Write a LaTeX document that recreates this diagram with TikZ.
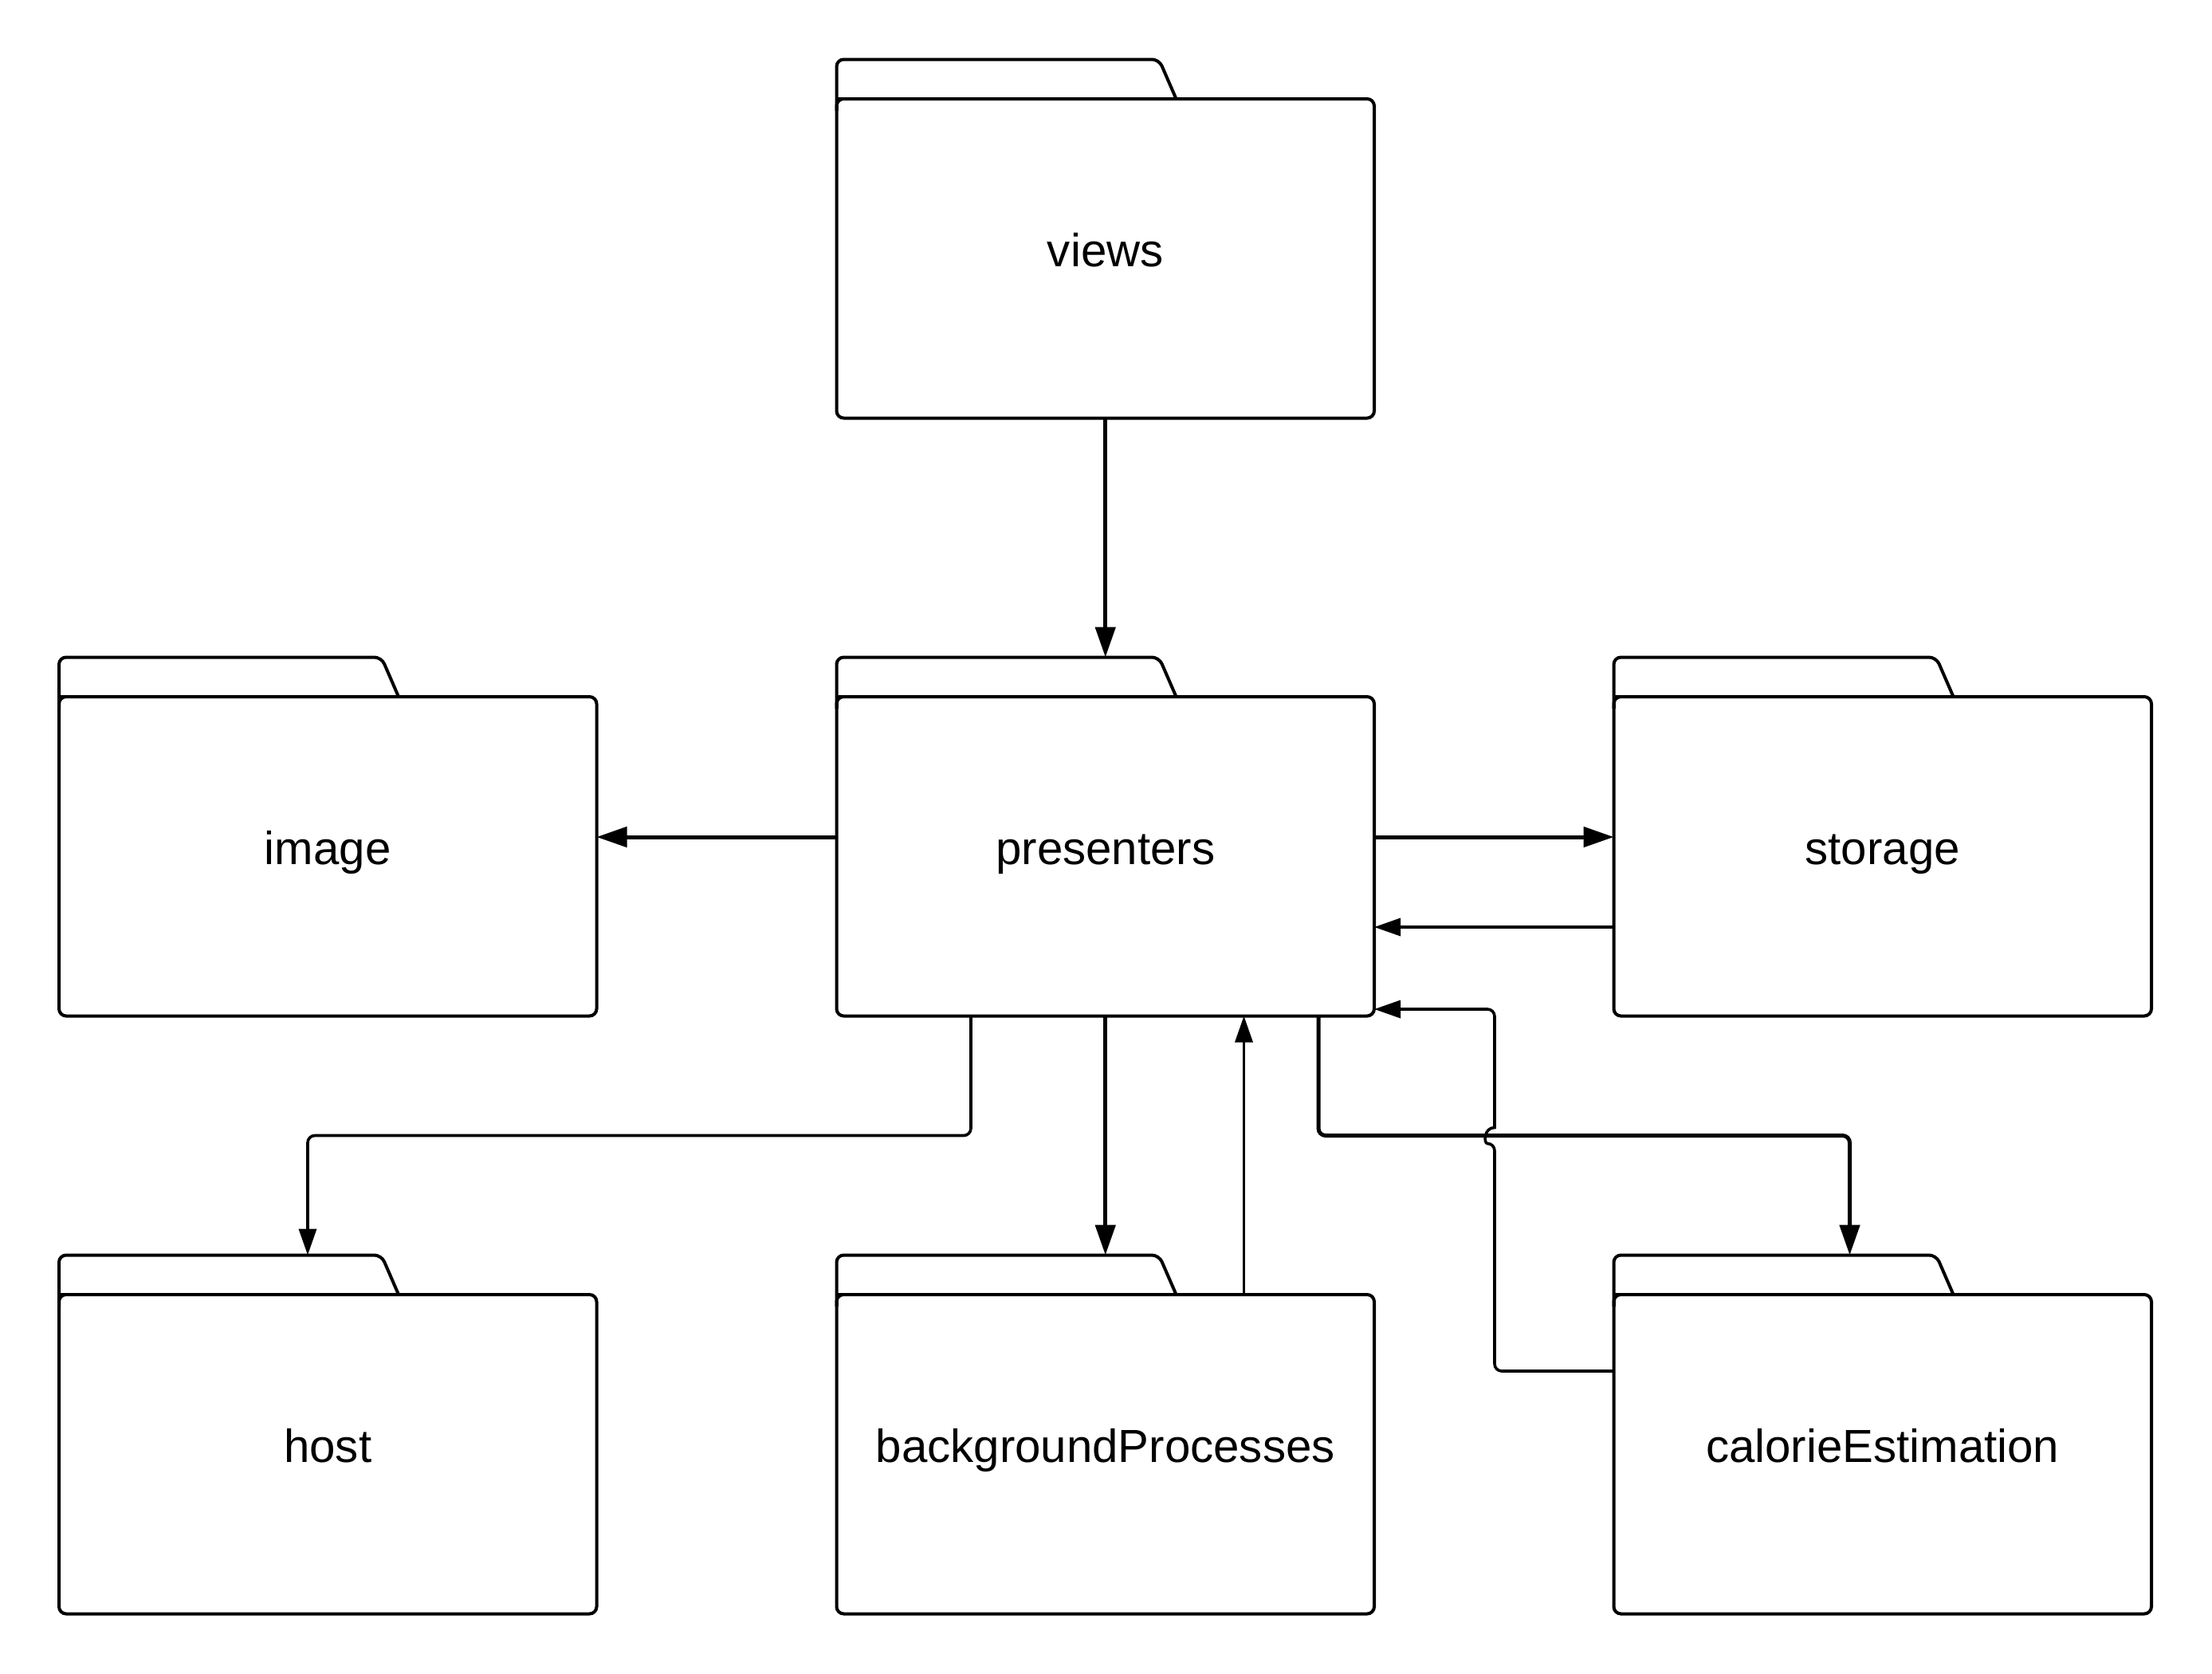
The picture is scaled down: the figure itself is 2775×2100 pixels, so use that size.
\documentclass[tikz,border=0pt]{standalone}
\usepackage{fontspec}
\setmainfont{Liberation Sans}
\usetikzlibrary{arrows.meta}
\newcommand\pkgfolder[4]{% #1 name, #2 left x, #3 tab top y, #4 label
  \node[folderbody] (#1) at (#2+337.25,#3+249.75) {#4};
  \coordinate (#1-tab) at (#2,#3);
  \draw[folderline, rounded corners=2.25pt] ([shift={(426,0)}]#1.north west) -- (#2+404.5,#3) -- (#1-tab) -- ([shift={(0,15)}]#1.north west);
  \draw[folderline] ([shift={(0,15)}]#1.north west) -- (#1.north west) -- ([shift={(15,0)}]#1.north west);
}
\begin{document}
\begin{tikzpicture}[x=0.25pt,y=-0.25pt,
  folderbody/.style={draw, line width=1pt, rounded corners=2.25pt,
    minimum width=168.625pt, minimum height=100.125pt, inner sep=0pt, outer sep=0pt,
    font=\fontsize{14.55pt}{17pt}\selectfont, text height=8.2pt, text depth=2.9pt},
  folderline/.style={line width=1pt},
  thickarrow/.style={line width=1.25pt, -{Triangle[length=9.5pt,width=6.25pt]}},
  thinarrow/.style={line width=0.9pt, -{Triangle[length=8.25pt,width=5.5pt]}},
  elbow/.style={rounded corners=2.25pt}]
\fill[white] (0,0) rectangle (2775,2100);
\useasboundingbox (0,0) rectangle (2775,2100);

\pkgfolder{views}{1049.5}{74.5}{views}
\pkgfolder{image}{74}{824.5}{image}
\pkgfolder{pres}{1049.5}{824.5}{presenters}
\pkgfolder{stor}{2024.5}{824.5}{storage}
\pkgfolder{host}{74}{1574.5}{host}
\pkgfolder{bg}{1049.5}{1574.5}{backgroundProcesses}
\pkgfolder{cal}{2024.5}{1574.5}{calorieEstimation}

\draw[thickarrow] (views.south) -- (views.south |- pres-tab);
\draw[thickarrow] (pres.west |- 0,1050) -- (image.east |- 0,1050);
\draw[thickarrow] (pres.east |- 0,1050) -- (stor.west |- 0,1050);
\draw[thinarrow] (stor.west |- 0,1163) -- (pres.east |- 0,1163);
\draw[thinarrow, elbow] (1218,0 |- pres.south) -- (1218,1424.5) -- (386,1424.5) -- (386,0 |- host-tab);
\draw[thickarrow] (pres.south) -- (pres.south |- bg-tab);
\draw[thinarrow] (1560.5,0 |- bg.north) -- (1560.5,0 |- pres.south);
\draw[thinarrow] (cal.west |- 0,1720) [rounded corners=2.25pt] -- (1875,1720) -- (1875,1434.5)
  [sharp corners] .. controls (1861.2,1434.5) and (1861.2,1414.5) .. (1875,1414.5)
  [rounded corners=2.25pt] -- (1875,1266) -- (pres.east |- 0,1266);
\draw[thickarrow, elbow] (1654,0 |- pres.south) -- (1654,1424.5) -- (2320.5,1424.5) -- (2320.5,0 |- cal-tab);
\end{tikzpicture}
\end{document}
